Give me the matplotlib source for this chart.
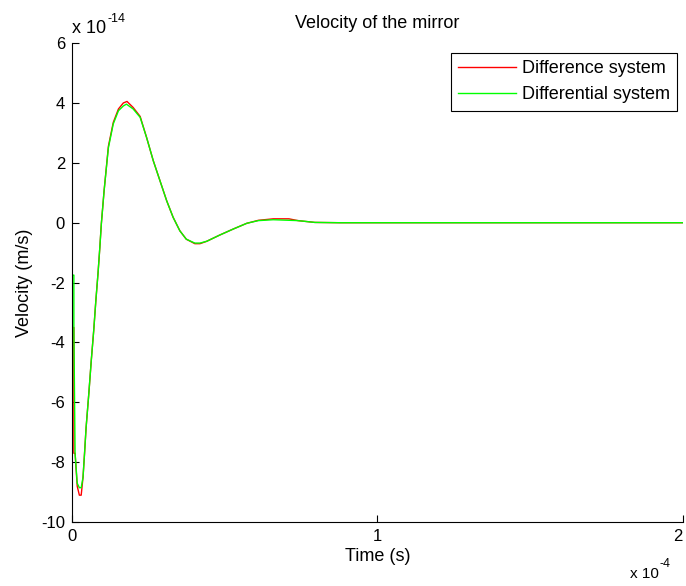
import numpy as np
import matplotlib
import matplotlib.pyplot as plt

matplotlib.use("Agg")

# time in microseconds, velocity in units of 1e-14 m/s
t_diff = [0.0, 0.6, 0.6, 1.0, 1.7, 2.4, 3.0, 3.6, 4.1, 4.6, 5.5, 6.3, 7.1, 7.8, 8.5,
          9.1, 9.6, 10.5, 11.9, 13.5, 15.2, 16.8, 18.0, 20.0, 22.3, 24.4, 26.6,
          28.8, 31.0, 33.1, 35.3, 37.4, 40.2, 41.9, 44.1, 48.4, 52.8, 57.2, 61.0,
          65.9, 71.0, 74.0, 79.5, 87.7, 200.0]
v_diff = [-3.5, -3.5, -7.7, -7.7, -8.8, -9.1, -9.1, -8.5, -7.7, -6.85, -5.7, -4.6,
          -3.6, -2.6, -1.7, -0.83, -0.03, 1.07, 2.55, 3.35, 3.8, 4.0, 4.05, 3.85,
          3.55, 2.85, 2.07, 1.4, 0.73, 0.18, -0.27, -0.55, -0.7, -0.7, -0.62, -0.41,
          -0.21, -0.02, 0.08, 0.13, 0.13, 0.07, 0.01, 0.0, 0.0]

t_cont = [0.3, 0.6, 0.6, 1.0, 1.7, 2.4, 3.0, 3.6, 4.1, 4.6, 5.5, 6.3, 7.1, 7.8,
          8.5, 9.1, 9.6, 10.5, 11.9, 13.5, 15.2, 16.8, 17.8, 20.0, 22.3, 24.4,
          26.6, 28.8, 31.0, 33.1, 35.3, 37.4, 40.2, 41.9, 44.1, 48.4, 52.8, 57.2,
          61.0, 65.9, 74.0, 79.5, 87.7, 200.0]
v_cont = [-1.75, -1.75, -3.5, -7.7, -8.7, -8.85, -8.85, -8.5, -7.7, -6.85, -5.7,
          -4.6, -3.6, -2.6, -1.7, -0.83, -0.03, 1.07, 2.5, 3.3, 3.74, 3.9, 3.96,
          3.8, 3.52, 2.85, 2.07, 1.4, 0.73, 0.18, -0.27, -0.55, -0.68, -0.68,
          -0.62, -0.41, -0.21, -0.02, 0.07, 0.1, 0.07, 0.01, 0.0, 0.0]

plt.rcParams['font.family'] = ['Liberation Sans', 'DejaVu Sans']
plt.rcParams['axes.unicode_minus'] = False

fig = plt.figure(figsize=(6.86, 5.86), dpi=100)
ax = fig.add_axes([0.105, 0.109, 0.8905, 0.8175])

# x plotted in units of 1e-4 s
ax.plot(np.array(t_diff) / 100, v_diff, color='#ff0000', lw=1.0, label='Difference system')
ax.plot(np.array(t_cont) / 100, v_cont, color='#00ff00', lw=1.0, label='Differential system')

ax.set_xlim(0, 2)
ax.set_ylim(-10, 6)
ax.set_xticks([0, 1, 2])
ax.set_yticks(range(-10, 7, 2))
ax.spines['top'].set_visible(False)
ax.spines['right'].set_visible(False)
for s in ['left', 'bottom']:
    ax.spines[s].set_linewidth(0.8)
ax.tick_params(direction='in', length=5, labelsize=12, width=0.8, pad=5)
ax.get_xticklabels()[-1].set_horizontalalignment('right')

ax.set_title('Velocity of the mirror', fontsize=13, pad=11)
ax.set_xlabel('Time (s)', fontsize=13, labelpad=3)
ax.set_ylabel('Velocity (m/s)', fontsize=13, labelpad=6)

# exponent labels, MATLAB style
fig.text(106 / 686, 1 - 33 / 586, 'x 10', fontsize=13, ha='right', va='baseline')
fig.text(107 / 686, 1 - 22 / 586, '-14', fontsize=9, ha='left', va='baseline')
fig.text(659 / 686, 1 - 578 / 586, 'x 10', fontsize=11, ha='right', va='baseline')
fig.text(660 / 686, 1 - 567 / 586, '-4', fontsize=9, ha='left', va='baseline')

leg = ax.legend(loc='upper right', bbox_to_anchor=(1 - 6 / 611, 1 - 10 / 479),
                borderaxespad=0, fontsize=13, fancybox=False, edgecolor='black',
                framealpha=1, handlelength=3.2, handletextpad=0.3,
                labelspacing=0.5, borderpad=0.4)
leg.get_frame().set_linewidth(0.8)

fig.savefig('out.png', dpi=100)
